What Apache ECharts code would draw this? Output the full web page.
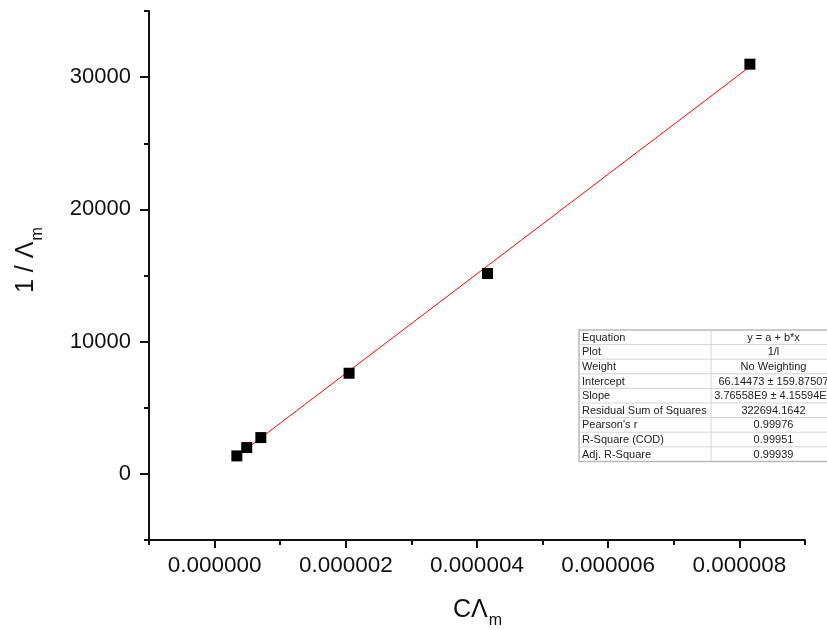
<!DOCTYPE html>
<html>
<head>
<meta charset="utf-8">
<script src="https://cdn.jsdelivr.net/npm/echarts@6/dist/echarts.min.js"></script>
<style>html,body{margin:0;padding:0;background:#fff;}#c{width:827px;height:630px;}</style>
</head>
<body>
<div id="c"></div>
<script>
// ---- data ----
const xValues = [0.339e-6, 0.49e-6, 0.705e-6, 2.05e-6, 4.16e-6, 8.16e-6];
const yValues = [1360, 1990, 2745, 7610, 15150, 30980];
const fitIntercept = 66.14473;
const fitSlope = 3.76558e9;
const xMajorTicks = [0, 2e-6, 4e-6, 6e-6, 8e-6];
const xMinorTicks = [-1e-6, 1e-6, 3e-6, 5e-6, 7e-6, 9e-6];
const yMajorTicks = [0, 10000, 20000, 30000];
const yMinorTicks = [-5000, 5000, 15000, 25000, 35000];
const tableLabels = ['Equation', 'Plot', 'Weight', 'Intercept', 'Slope', 'Residual Sum of Squares', "Pearson's r", 'R-Square (COD)', 'Adj. R-Square'];
const tableValues = ['y = a + b*x', '1/l', 'No Weighting', '66.14473 \u00b1 159.87507', '3.76558E9 \u00b1 4.15594E7', '322694.1642', '0.99976', '0.99951', '0.99939'];

const FONT = '"Liberation Sans", Arial, sans-serif';
const chart = echarts.init(document.getElementById('c'));

const points = xValues.map((x, i) => [x, yValues[i]]);
const fitX = [xValues[0], xValues[xValues.length - 1]];
const fitLine = fitX.map(x => [x, fitIntercept + fitSlope * x]);

function measure(text, size) {
  const ctx = document.createElement('canvas').getContext('2d');
  ctx.font = size + 'px ' + FONT;
  return ctx.measureText(text).width;
}

// table graphics
const tX = 579, tY = 330, rowH = 14.6, colX = 711, tR = 836;
const tableEls = [];
tableEls.push({ type: 'rect', shape: { x: tX, y: tY, width: tR - tX, height: rowH * tableLabels.length }, style: { fill: '#fff', stroke: '#b8b8b8', lineWidth: 1.5 }, z: 100 });
for (let i = 1; i < tableLabels.length; i++) {
  tableEls.push({ type: 'line', shape: { x1: tX, y1: tY + rowH * i, x2: tR, y2: tY + rowH * i }, style: { stroke: '#d4d4d4', lineWidth: 1 }, z: 101 });
}
tableEls.push({ type: 'line', shape: { x1: colX, y1: tY, x2: colX, y2: tY + rowH * tableLabels.length }, style: { stroke: '#d4d4d4', lineWidth: 1 }, z: 101 });
tableLabels.forEach((t, i) => {
  tableEls.push({ type: 'text', z: 102, style: { text: t, x: tX + 3, y: tY + rowH * i + rowH / 2 + 0.5, font: '11px ' + FONT, fill: '#222', textAlign: 'left', textVerticalAlign: 'middle' } });
  tableEls.push({ type: 'text', z: 102, style: { text: tableValues[i], x: (colX + tR) / 2, y: tY + rowH * i + rowH / 2 + 0.5, font: '11px ' + FONT, fill: '#222', textAlign: 'center', textVerticalAlign: 'middle' } });
});

// axis titles
const TS = 25, SS = 16;
const yMain = '1 / \u039b';
const yW = measure(yMain, TS);
const xMain = 'C\u039b';
const xW = measure(xMain, TS);
const xTitleX = 477 - (xW + measure('m', SS)) / 2;

const titleEls = [
  {
    type: 'group', x: 39, y: 293, rotation: Math.PI / 2,
    children: [
      { type: 'text', style: { text: yMain, x: 0, y: 0, font: TS + 'px ' + FONT, fill: '#111', textAlign: 'left', textVerticalAlign: 'bottom' } },
      { type: 'text', style: { text: 'm', x: yW + 1, y: 7, font: SS + 'px ' + FONT, fill: '#111', textAlign: 'left', textVerticalAlign: 'bottom' } }
    ]
  },
  { type: 'text', style: { text: xMain, x: xTitleX, y: 623, font: TS + 'px ' + FONT, fill: '#111', textAlign: 'left', textVerticalAlign: 'bottom' } },
  { type: 'text', style: { text: 'm', x: xTitleX + xW + 1, y: 629, font: SS + 'px ' + FONT, fill: '#111', textAlign: 'left', textVerticalAlign: 'bottom' } }
];

chart.setOption({
  animation: false,
  backgroundColor: '#fff',
  grid: { left: 149, right: 22, top: 11, bottom: 90, containLabel: false, outerBoundsMode: 'none' },
  xAxis: [
    {
      type: 'value', min: -1e-6, max: 9e-6, position: 'bottom',
      axisLine: { show: true, onZero: false, lineStyle: { color: '#111', width: 2 } },
      splitLine: { show: false },
      axisTick: { show: true, inside: false, length: 8, lineStyle: { color: '#111', width: 2 }, customValues: xMajorTicks },
      axisLabel: { show: true, margin: 14, fontSize: 22.5, fontFamily: FONT, color: '#111', customValues: xMajorTicks, formatter: v => Math.abs(v) < 1e-12 ? '0.000000' : v.toFixed(6) }
    },
    {
      type: 'value', min: -1e-6, max: 9e-6, position: 'bottom', gridIndex: 0,
      axisLine: { show: false, onZero: false }, splitLine: { show: false },
      axisTick: { show: true, length: 5, lineStyle: { color: '#111', width: 2 }, customValues: xMinorTicks },
      axisLabel: { show: false }
    }
  ],
  yAxis: [
    {
      type: 'value', min: -5000, max: 35000, position: 'left',
      axisLine: { show: true, onZero: false, lineStyle: { color: '#111', width: 2 } },
      splitLine: { show: false },
      axisTick: { show: true, inside: false, length: 9, lineStyle: { color: '#111', width: 2 }, customValues: yMajorTicks },
      axisLabel: { show: true, margin: 18, fontSize: 22, fontFamily: FONT, color: '#111', customValues: yMajorTicks, formatter: v => String(Math.round(v)) }
    },
    {
      type: 'value', min: -5000, max: 35000, position: 'left', gridIndex: 0,
      axisLine: { show: false, onZero: false }, splitLine: { show: false },
      axisTick: { show: true, length: 5, lineStyle: { color: '#111', width: 2 }, customValues: yMinorTicks },
      axisLabel: { show: false }
    }
  ],
  series: [
    {
      type: 'line', data: fitLine, symbol: 'none', lineStyle: { color: '#ff0000', width: 1 }, z: 2, silent: true
    },
    {
      type: 'scatter', data: points, symbol: 'rect', symbolSize: 11, itemStyle: { color: '#000', opacity: 1 }, z: 3
    }
  ],
  graphic: { elements: titleEls.concat(tableEls) }
});
</script>
</body>
</html>
